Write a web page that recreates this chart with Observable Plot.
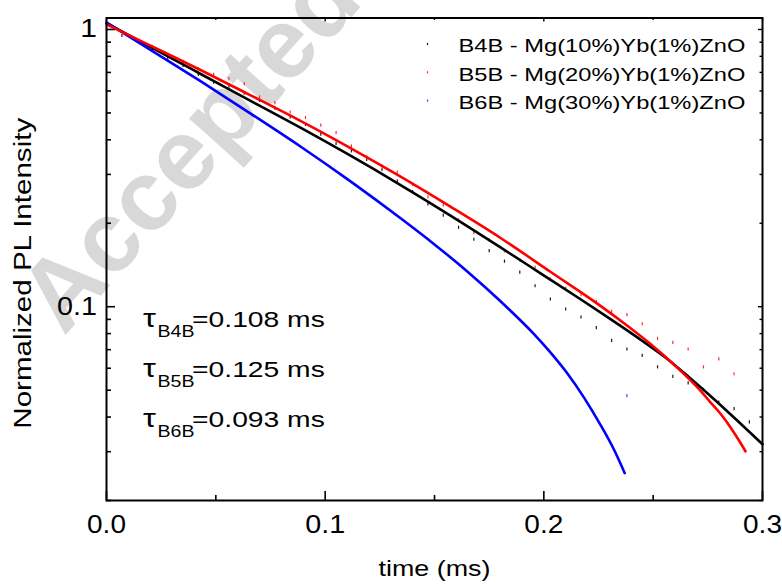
<!DOCTYPE html>
<html><head><meta charset="utf-8">
<script src="https://cdn.jsdelivr.net/npm/d3@7"></script>
<script src="https://cdn.jsdelivr.net/npm/@observablehq/plot@0.6"></script>
<style>
body{margin:0;background:#fff;}
#chart{position:relative;width:782px;height:585px;}
</style></head><body><div id="chart"></div>
<script>
// ---- data ----
const seriesNames = ["B4B - Mg(10%)Yb(1%)ZnO", "B5B - Mg(20%)Yb(1%)ZnO", "B6B - Mg(30%)Yb(1%)ZnO"];
const seriesColors = ["#000000", "#ff0000", "#0000ff"];
const pointColors = ["#1a1a1a", "#ff2a2a", "#3344ff"];

const pointTime = [0,0.007,0.014,0.021,0.028,0.035,0.042,0.049,0.056,0.063,0.07,0.077,0.084,0.091,0.098,0.105,0.112,0.119,0.126,0.133,0.14,0.147,0.154,0.161,0.168,0.175,0.182,0.189,0.196,0.203,0.21,0.217,0.224,0.231,0.238,0.245,0.252,0.259,0.266,0.273,0.28,0.287,0.294];
const b4bPoints = [1.0,0.951,0.915,0.855,0.785,0.742,0.689,0.645,0.624,0.589,0.555,0.520,0.484,0.455,0.419,0.388,0.365,0.340,0.313,0.284,0.260,0.235,0.214,0.1934,0.1751,0.1594,0.1460,0.1333,0.1190,0.1066,0.0981,0.0918,0.0841,0.0756,0.0704,0.0668,0.0607,0.0561,0.0531,0.0503,0.0453,0.0429,0.0384];
const b5bPoints = [1.0,0.951,0.913,0.869,0.806,0.767,0.722,0.689,0.665,0.638,0.571,0.545,0.504,0.481,0.452,0.425,0.380,0.347,0.322,0.306,0.277,0.249,0.233,0.2056,0.1850,0.1742,0.1590,0.1476,0.1389,0.1258,0.1168,0.1105,0.1045,0.0962,0.0936,0.0868,0.0769,0.0744,0.0704,0.0607,0.0648,0.0573];
const b6bPointTime = [0.238];
const b6bPoints = [0.0478];

const b4bFitTime = [0,0.0201,0.0384,0.0521,0.0704,0.0887,0.1116,0.1345,0.1573,0.1802,0.1985,0.2168,0.2305,0.2442,0.2556,0.2671,0.2785,0.2899,0.3];
const b4bFit = [1.0536,0.8651,0.7233,0.6325,0.5289,0.4423,0.3504,0.2747,0.2132,0.1637,0.1320,0.1064,0.0902,0.0761,0.0656,0.0551,0.0459,0.0379,0.0319];
const b5bFitTime = [0,0.0201,0.0430,0.0659,0.0887,0.1116,0.1345,0.1573,0.1802,0.2030,0.2259,0.2373,0.2488,0.2602,0.2717,0.2762,0.2808,0.2854,0.2899,0.2922];
const b5bFit = [1.0423,0.8744,0.7144,0.5789,0.4683,0.3735,0.2945,0.2295,0.1770,0.1337,0.1007,0.0864,0.0733,0.0611,0.0497,0.0452,0.0411,0.0367,0.0323,0.0301];
const b6bFitTime = [0,0.0201,0.0430,0.0659,0.0887,0.1116,0.1345,0.1497,0.1650,0.1802,0.1954,0.2030,0.2107,0.2183,0.2259,0.2320,0.2370];
const b6bFit = [1.0597,0.8445,0.6511,0.4975,0.3785,0.2833,0.2085,0.1685,0.1340,0.1046,0.0798,0.0684,0.0575,0.0471,0.0375,0.0306,0.0251];

const tauSamples = ["B4B", "B5B", "B6B"];
const tauValues = ["0.108", "0.125", "0.093"];

const xMajorTicks = [0, 0.1, 0.2, 0.3];
const xMinorTicks = [0.05, 0.15, 0.25];
const yMajorTicks = [0.1, 1];
const yMinorTicks = [0.02,0.03,0.04,0.05,0.06,0.07,0.08,0.09,0.2,0.3,0.4,0.5,0.6,0.7,0.8,0.9];
const xLabel = "time (ms)";
const yLabel = "Normalized PL Intensity";
const watermark = "Accepted";

// ---- tables ----
const pointRows = [
  ...pointTime.map((t, i) => ({t, v: b4bPoints[i], s: 0})),
  ...pointTime.slice(0, b5bPoints.length).map((t, i) => ({t, v: b5bPoints[i], s: 1})),
  ...b6bPointTime.map((t, i) => ({t, v: b6bPoints[i], s: 2}))
];
const fits = [
  b4bFitTime.map((t, i) => ({t, v: b4bFit[i]})),
  b5bFitTime.map((t, i) => ({t, v: b5bFit[i]})),
  b6bFitTime.map((t, i) => ({t, v: b6bFit[i]}))
];

// ---- layout ----
const W = 782, H = 585, mL = 106, mR = 20, mT = 17.5, mB = 85;
const iw = W - mL - mR, ih = H - mT - mB;
const FONT = "'Liberation Sans', Arial, Helvetica, sans-serif";

const dash = {draw(ctx, size) { const h = Math.sqrt(size) / 2; ctx.moveTo(0, -h); ctx.lineTo(0, h); }};
const txt = d => d;

const marks = [
  Plot.text([watermark], {text: txt, frameAnchor: "top-left", dx: 84, dy: 130, rotate: -48,
    fontSize: 100, fontWeight: "bold", fill: "#d8d8d8", textAnchor: "middle", lineAnchor: "middle"}),
  // inward ticks
  Plot.tickY(yMajorTicks, {y: d => d, insetRight: iw - 9, strokeWidth: 1.6}),
  Plot.tickY(yMinorTicks, {y: d => d, insetRight: iw - 5, strokeWidth: 1.6}),
  Plot.tickY(yMajorTicks, {y: d => d, insetLeft: iw - 4, strokeWidth: 1.4}),
  Plot.tickY(yMinorTicks, {y: d => d, insetLeft: iw - 2.5, strokeWidth: 1.4}),
  Plot.tickX(xMajorTicks, {x: d => d, insetTop: ih - 9, strokeWidth: 1.6}),
  Plot.tickX(xMinorTicks, {x: d => d, insetTop: ih - 5, strokeWidth: 1.6}),
  Plot.tickX(xMajorTicks, {x: d => d, insetBottom: ih - 4, strokeWidth: 1.4}),
  Plot.tickX(xMinorTicks, {x: d => d, insetBottom: ih - 2.5, strokeWidth: 1.4}),
  // data points
  ...[0, 1, 2].map(s => Plot.dot(pointRows.filter(d => d.s === s), {x: "t", y: "v", r: 1.8, symbol: dash,
    fill: "none", stroke: pointColors[s], strokeWidth: 1.2})),
  // fitted curves
  Plot.line(fits[0], {x: "t", y: "v", stroke: seriesColors[0], strokeWidth: 2.6, curve: "monotone-x"}),
  Plot.line(fits[2], {x: "t", y: "v", stroke: seriesColors[2], strokeWidth: 2.6, curve: "monotone-x"}),
  Plot.line(fits[1], {x: "t", y: "v", stroke: seriesColors[1], strokeWidth: 2.6, curve: "monotone-x"}),
  Plot.frame({stroke: "black", strokeWidth: 2}),
  // legend
  ...seriesNames.map((name, i) => Plot.dot([name], {frameAnchor: "top-left", dx: 321, dy: 26 + 28.3 * i, r: 1.2,
    symbol: dash, fill: "none", stroke: pointColors[i], strokeWidth: 1.2})),
  ...seriesNames.map((name, i) => Plot.text([name], {text: txt, frameAnchor: "top-left", dx: 352, dy: 34.2 + 28.3 * i,
    fontSize: 18.7, textAnchor: "start", lineAnchor: "bottom", fill: "black"})),
  // lifetimes
  ...tauSamples.map((s, i) => Plot.text(["τ"], {text: txt, frameAnchor: "top-left", dx: 36.5, dy: 309.2 + 50 * i,
    fontSize: 25, textAnchor: "start", lineAnchor: "bottom"})),
  ...tauSamples.map((s, i) => Plot.text([s], {text: txt, frameAnchor: "top-left", dx: 51, dy: 319.2 + 50 * i,
    fontSize: 16.3, textAnchor: "start", lineAnchor: "bottom"})),
  ...tauValues.map((v, i) => Plot.text(["=" + v + " ms"], {text: txt, frameAnchor: "top-left", dx: 85.6, dy: 309.2 + 50 * i,
    fontSize: 21.9, textAnchor: "start", lineAnchor: "bottom"})),
  // axis titles
  Plot.text([xLabel], {text: txt, frameAnchor: "bottom", dy: 75.5, fontSize: 22, textAnchor: "middle", lineAnchor: "bottom"}),
  Plot.text([yLabel], {text: txt, frameAnchor: "left", dx: -83, dy: 14, rotate: -90, fontSize: 23.5,
    textAnchor: "middle", lineAnchor: "middle"})
];

const chart = Plot.plot({
  width: W, height: H,
  marginLeft: mL, marginRight: mR, marginTop: mT, marginBottom: mB,
  style: {fontFamily: FONT, fontSize: "25px", background: "transparent", color: "black", overflow: "visible"},
  x: {domain: [0, 0.3], ticks: xMajorTicks, tickSize: 0, tickPadding: 15, tickFormat: d3.format(".1f"), label: null},
  y: {type: "log", domain: [0.02, 1.1], ticks: yMajorTicks, tickSize: 0, tickPadding: 9.5,
      tickFormat: d => (d === 1 ? "1" : String(d)), label: null},
  marks
});
document.getElementById("chart").appendChild(chart);

// the reference lettering is wider than Arial at the same height: widen along the baseline
const widen = new Map([
  ...seriesNames.map(s => [s, 1.267]),
  ...tauSamples.map(s => [s, 1.2]),
  ...tauValues.map(v => ["=" + v + " ms", 1.29]),
  ["τ", 1.3], [xLabel, 1.22], [yLabel, 1.257],
  ["0.0", 1.12], ["0.1", 1.15], ["0.2", 1.12], ["0.3", 1.12], ["1", 1.2]
]);
chart.querySelectorAll("text").forEach(t => {
  const s = t.textContent;
  if (s === watermark) {
    // keep the watermark underneath everything else
    const g = t.parentNode;
    const firstG = chart.querySelector("g");
    if (g && firstG && g !== firstG) chart.insertBefore(g, firstG);
    return;
  }
  const f = widen.get(s);
  if (f) {
    const L = t.getComputedTextLength();
    t.setAttribute("textLength", (L * f).toFixed(2));
    t.setAttribute("lengthAdjust", "spacingAndGlyphs");
  }
});
</script>
</body></html>
